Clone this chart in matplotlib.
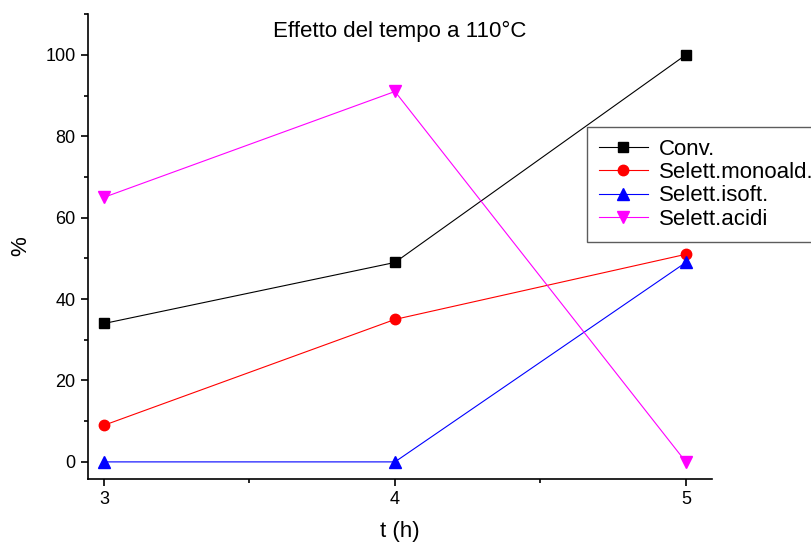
import matplotlib
matplotlib.use("Agg")
import matplotlib.pyplot as plt
from matplotlib.ticker import MultipleLocator

plt.rcParams['font.family'] = ['Liberation Sans', 'DejaVu Sans']

t_hours = [3, 4, 5]
conv = [34, 49, 100]
selett_monoald = [9, 35, 51]
selett_isoft = [0, 0, 49]
selett_acidi = [65, 91, 0]

fig = plt.figure(figsize=(8.12, 5.44), dpi=100)
ax = fig.add_axes([0.1084, 0.1195, 0.7685, 0.8545])

ax.plot(t_hours, conv, color='black', lw=0.8, marker='s', ms=7, label='Conv.')
ax.plot(t_hours, selett_monoald, color='red', lw=0.8, marker='o', ms=7.5, label='Selett.monoald.')
ax.plot(t_hours, selett_isoft, color='blue', lw=0.8, marker='^', ms=8, label='Selett.isoft.')
ax.plot(t_hours, selett_acidi, color='magenta', lw=0.8, marker='v', ms=8, label='Selett.acidi')

ax.set_xlim(2.945, 5.09)
ax.set_ylim(-4.2, 110)
ax.xaxis.set_major_locator(MultipleLocator(1))
ax.xaxis.set_minor_locator(MultipleLocator(0.5))
ax.yaxis.set_major_locator(MultipleLocator(20))
ax.yaxis.set_minor_locator(MultipleLocator(10))

for side in ('top', 'right'):
    ax.spines[side].set_visible(False)
for side in ('left', 'bottom'):
    ax.spines[side].set_linewidth(1.2)

ax.tick_params(which='major', direction='out', length=5, width=1.2, labelsize=13, pad=4)
ax.tick_params(which='minor', direction='out', length=3, width=1.2)

ax.set_xlabel('t (h)', fontsize=16, labelpad=9)
ax.set_ylabel('%', fontsize=16, labelpad=10)

ax.text(0.5, 0.963, 'Effetto del tempo a 110°C', transform=ax.transAxes,
        ha='center', va='center', fontsize=16)

leg = fig.legend(loc='upper left', bbox_to_anchor=(0.7225, 0.767), fontsize=16,
                 frameon=True, fancybox=False, handlelength=2.2, handletextpad=0.5,
                 labelspacing=0.1, borderpad=0.55, borderaxespad=0)
leg.get_frame().set_edgecolor('#333333')
leg.get_frame().set_linewidth(1.0)

fig.savefig('out.png', dpi=100)
